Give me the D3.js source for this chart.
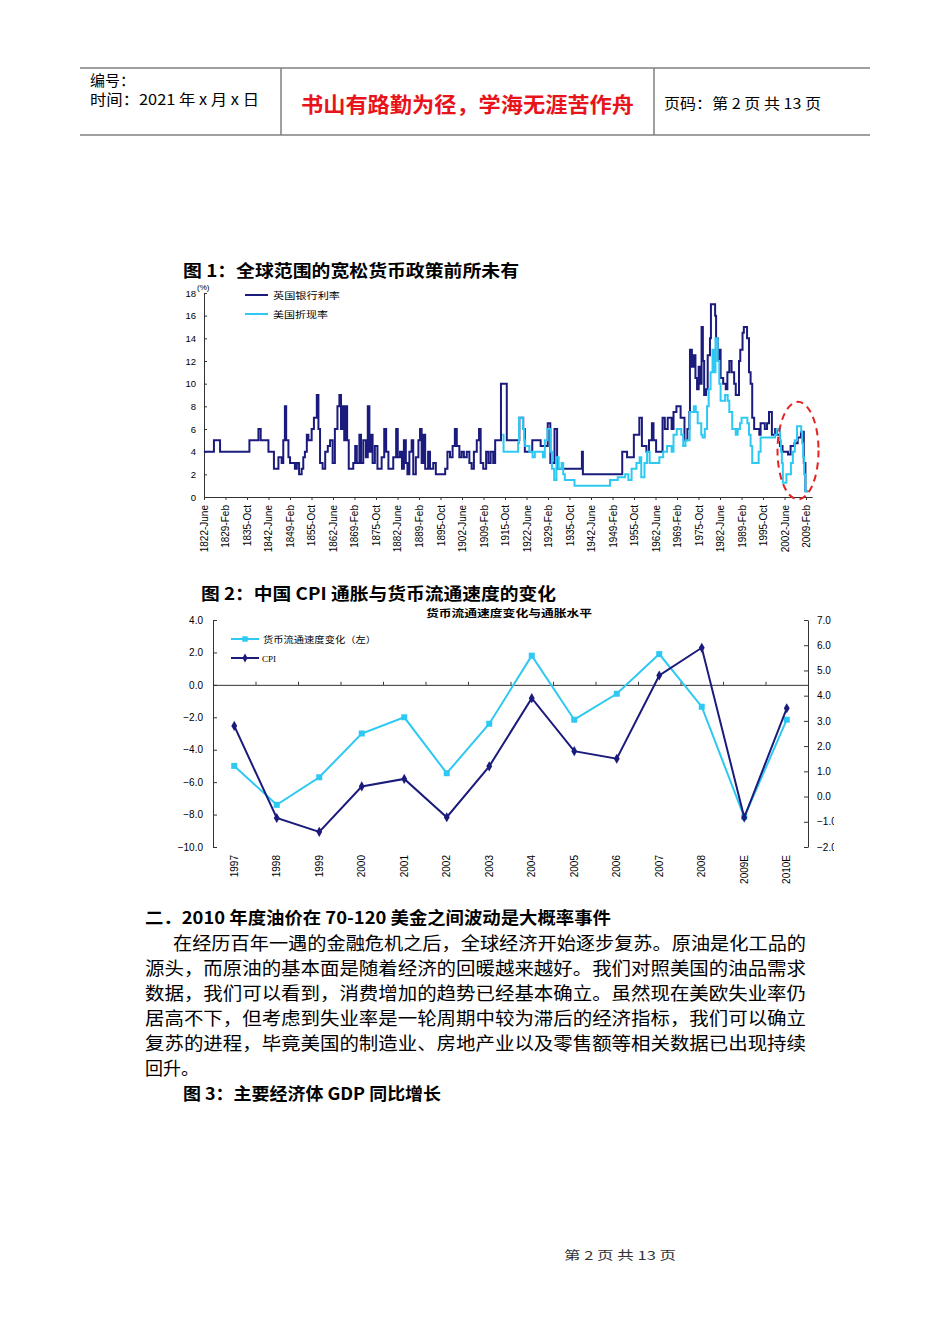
<!DOCTYPE html>
<html>
<head>
<meta charset="utf-8">
<script src="https://cdn.jsdelivr.net/npm/d3@7"></script>
<style>
body { margin: 0; background: #fff; }
</style>
</head>
<body>
<svg id="page" width="950" height="1344"></svg>
<script>
// ---- figure 1 data: UK bank rate / US discount rate (step series) ----
const bankYears = [1822.4,1825.5,1827.4,1836.5,1839.3,1840.0,1842.4,1844.1,1845.5,1846.5,1847.0,1847.5,1847.9,1848.6,1849.1,1850.6,1851.2,1851.9,1852.7,1853.2,1853.7,1854.3,1854.8,1855.8,1856.5,1857.4,1857.9,1858.4,1859.2,1860.0,1860.8,1861.5,1862.3,1863.0,1863.8,1864.4,1864.9,1865.4,1865.9,1866.4,1866.8,1867.3,1868.7,1869.3,1869.8,1870.6,1871.1,1871.8,1872.6,1873.2,1873.7,1874.2,1874.7,1875.4,1876.2,1877.5,1878.3,1878.9,1879.6,1881.1,1882.0,1882.5,1883.2,1883.8,1884.4,1885.0,1885.5,1886.1,1886.8,1887.3,1888.1,1888.9,1889.4,1889.9,1890.4,1891.0,1891.9,1892.5,1893.5,1894.3,1897.2,1897.9,1898.7,1899.5,1900.2,1900.8,1901.6,1902.3,1903.0,1903.9,1904.7,1905.4,1906.1,1907.0,1907.7,1908.2,1909.0,1909.9,1910.6,1911.3,1912.1,1912.7,1914.5,1916.3,1920.2,1921.4,1921.9,1924.2,1926.8,1929.0,1929.8,1931.1,1931.9,1939.6,1939.9,1952.1,1953.6,1955.7,1957.4,1958.2,1959.6,1960.4,1961.3,1961.8,1962.6,1964.6,1965.3,1966.2,1967.4,1968.0,1968.9,1970.2,1971.4,1972.3,1972.9,1973.1,1973.7,1974.2,1974.8,1975.3,1975.8,1976.3,1976.7,1977.1,1977.5,1978.1,1978.6,1979.3,1979.6,1980.9,1981.2,1981.7,1982.2,1982.6,1983.4,1984.2,1984.7,1985.3,1986.0,1986.8,1987.3,1988.3,1988.7,1989.4,1989.8,1990.8,1991.4,1991.9,1992.4,1993.0,1994.6,1995.0,1996.3,1997.0,1997.6,1998.5,1999.5,2000.1,2001.0,2001.8,2003.5,2004.3,2005.5,2006.5,2007.5,2008.4,2008.9,2009.8];
const bankRates = [4,5,4,5,6,5,4,2.5,3.5,3,5,8,5,3.5,3,2.5,3,2,2.5,3.5,4,5.5,5,6,7,9,6,3,2.5,4,4.5,5,3,6,8,9,6,8,5,8,5,2.5,3,4.5,3,5.5,3,5,3.5,8,4,5.5,3,4.5,2.5,3.5,6,4,2.5,3.5,6,3.5,4,2.5,5,3,2,4,5,2,3.5,5,6,3,5.5,2.5,4,2.5,3,2,2.5,4,3.5,4.5,6,4.5,3.5,4,3.5,4,3,2.5,4,5,6,3,2.5,4,3,4,3,5,10,5,7,6,4,5,4.5,6.5,3,6,2.5,4,2,4,3.5,5.5,7,4.5,4,5,6.5,5,4,7,6,7,6,7.5,8,7,5,6,7.5,13,11.5,12.5,10.5,9.5,11.5,10,15,12,9,9.5,12.5,14,17,16,14,12,13,10.5,10,9.5,11,12,11,10,9,12,13,14.5,15,14,11,10,7,6,5.5,6.5,6,6.5,7.5,5.5,6,5.5,4.5,4,3.75,4.5,4.75,5.25,5.75,3,0.5,0.5];

const discYears = [1914.9,1915.3,1919.8,1920.1,1921.3,1921.7,1922.0,1923.3,1924.3,1925.0,1927.5,1928.1,1928.9,1929.9,1930.3,1931.0,1931.7,1932.4,1933.3,1933.8,1934.3,1937.3,1948.3,1950.7,1953.0,1954.0,1955.0,1956.5,1957.5,1958.0,1959.0,1959.8,1960.6,1963.6,1964.8,1966.0,1967.4,1968.0,1969.0,1970.4,1971.0,1971.7,1973.0,1974.3,1974.9,1975.5,1976.6,1977.0,1977.7,1978.4,1978.9,1979.5,1980.1,1980.6,1981.0,1981.7,1982.2,1982.6,1984.0,1984.8,1985.3,1986.2,1987.3,1987.9,1988.6,1989.1,1990.9,1991.4,1991.9,1992.4,1994.4,1995.0,1999.5,2000.0,2001.0,2001.3,2001.6,2001.9,2003.0,2004.4,2005.0,2005.6,2006.3,2007.6,2007.9,2008.2,2008.5,2008.9,2009.8];
const discRates = [5.5,4,4.75,7,6,5,4.5,4,3.5,4,3.5,5,6,4,2.5,1.5,3.5,2.5,3,2,1.5,1,1.5,1.75,2,1.5,2.5,3,3.5,1.75,3,4,3,3.5,4,4.5,4,5.5,6,5.5,4.5,5,7.5,8,7.5,6.5,5.5,5.25,6,8,9.5,11,13,11,14,12,10,8.5,9,8.5,7.5,6,5.5,6,6.5,7,6.5,5.5,4.5,3,4,5.25,5.5,6,5,4,3,1.25,2,3,4,5,6.25,5.75,4.75,3.5,2,0.5,0.5];

const fig1XLabels = ["1822-June","1829-Feb","1835-Oct","1842-June","1849-Feb","1855-Oct","1862-June","1869-Feb","1875-Oct","1882-June","1889-Feb","1895-Oct","1902-June","1909-Feb","1915-Oct","1922-June","1929-Feb","1935-Oct","1942-June","1949-Feb","1955-Oct","1962-June","1969-Feb","1975-Oct","1982-June","1989-Feb","1995-Oct","2002-June","2009-Feb"];
const fig1YTicks = [0,2,4,6,8,10,12,14,16,18];
const fig1Legend = ["英国银行利率","美国折现率"];

// ---- figure 2 data ----
const fig2Years = ["1997","1998","1999","2000","2001","2002","2003","2004","2005","2006","2007","2008","2009E","2010E"];
const velocityChange = [-5.0,-7.4,-5.7,-3.0,-2.0,-5.45,-2.4,1.8,-2.15,-0.55,1.9,-1.35,-8.15,-2.15];
const cpiValues = [2.8,-0.85,-1.4,0.4,0.7,-0.82,1.2,3.9,1.8,1.5,4.8,5.9,-0.83,3.5];
const fig2LeftTicks = [4,2,0,-2,-4,-6,-8,-10];
const fig2RightTicks = [7,6,5,4,3,2,1,0,-1,-2];
const fig2Legend = ["货币流通速度变化（左）","CPI"];

const bodyLines = [
  "在经历百年一遇的金融危机之后，全球经济开始逐步复苏。原油是化工品的",
  "源头，而原油的基本面是随着经济的回暖越来越好。我们对照美国的油品需求",
  "数据，我们可以看到，消费增加的趋势已经基本确立。虽然现在美欧失业率仍",
  "居高不下，但考虑到失业率是一轮周期中较为滞后的经济指标，我们可以确立",
  "复苏的进程，毕竟美国的制造业、房地产业以及零售额等相关数据已出现持续",
  "回升。"
];

const CJK = '"Noto Sans CJK SC", sans-serif';
const NUM = '"Liberation Sans", Arial, sans-serif';
const NAVY = "#1b1b7d";
const CYAN = "#2ec9f2";

let svg = d3.select("#page");
svg.append("rect").attr("width", 950).attr("height", 1344).attr("fill", "#fff");

// ---------- page header ----------
let head = svg.append("g");
head.selectAll("line.hl").data([68, 135]).join("line").attr("class", "hl")
  .attr("x1", 80).attr("x2", 870).attr("y1", d => d).attr("y2", d => d)
  .attr("stroke", "#7f7f7f").attr("stroke-width", 1.5);
head.selectAll("line.vl").data([281, 654]).join("line").attr("class", "vl")
  .attr("x1", d => d).attr("x2", d => d).attr("y1", 68).attr("y2", 135)
  .attr("stroke", "#7f7f7f").attr("stroke-width", 1.5);

function txt(g, s, x, y, size, opts = {}) {
  let t = g.append("text").attr("x", x).attr("y", y).text(s)
    .style("font-family", opts.family || CJK).style("font-size", size + "px")
    .attr("fill", opts.fill || "#000");
  if (opts.bold) t.style("font-weight", "bold");
  if (opts.len) t.attr("textLength", opts.len).attr("lengthAdjust", "spacingAndGlyphs");
  if (opts.anchor) t.attr("text-anchor", opts.anchor);
  return t;
}

txt(head, "编号：", 90, 86, 15);
txt(head, "时间：2021 年 x 月 x 日", 90, 105, 15, {len: 169});
txt(head, "书山有路勤为径，学海无涯苦作舟", 301, 112, 21, {bold: true, fill: "#e8141c", len: 333});
txt(head, "页码：第 2 页  共 13 页", 664, 109, 14.5, {len: 157});

// ---------- figure 1 ----------
txt(svg, "图 1：全球范围的宽松货币政策前所未有", 183, 277, 17, {bold: true, len: 336});

let x1 = d3.scaleLinear().domain([1822.42, 2011]).range([204, 812.2]);
let y1 = d3.scaleLinear().domain([0, 18]).range([497, 293]);
const monthIdx = {Feb: 1, June: 5, Oct: 9};
let labelYear = s => +s.split("-")[0] + monthIdx[s.split("-")[1]] / 12;

let g1 = svg.append("g");
g1.append("g").attr("transform", "translate(0,497)")
  .call(d3.axisBottom(x1).tickValues(fig1XLabels.map(labelYear))
    .tickFormat((d, i) => fig1XLabels[i]).tickSize(3).tickSizeOuter(0))
  .call(a => a.select(".domain").attr("stroke", "#333"))
  .call(a => a.selectAll(".tick line").attr("stroke", "#333"))
  .call(a => a.selectAll("text").attr("transform", "rotate(-90)")
    .attr("x", -8).attr("y", 0).attr("dy", "0.35em").style("text-anchor", "end")
    .style("font-family", NUM).style("font-size", "10px").attr("fill", "#000"));

g1.append("g").attr("transform", "translate(204,0)")
  .call(d3.axisLeft(y1).tickValues(fig1YTicks).tickSize(-3).tickSizeOuter(0).tickPadding(8))
  .call(a => a.select(".domain").attr("stroke", "#333"))
  .call(a => a.selectAll(".tick line").attr("stroke", "#333"))
  .call(a => a.selectAll("text").style("font-family", NUM).style("font-size", "9.5px").attr("fill", "#000"));
txt(g1, "(%)", 197, 289.5, 8, {family: NUM});

let line1 = d3.line().x(d => x1(d[0])).y(d => y1(d[1])).curve(d3.curveStepAfter);
g1.append("path").datum(bankYears.map((yr, i) => [yr, bankRates[i]]))
  .attr("d", line1).attr("fill", "none").attr("stroke", NAVY).attr("stroke-width", 2);
g1.append("path").datum(discYears.map((yr, i) => [yr, discRates[i]]))
  .attr("d", line1).attr("fill", "none").attr("stroke", CYAN).attr("stroke-width", 2);

// highlight ellipse
g1.append("ellipse").attr("cx", x1(2006.6)).attr("cy", (y1(8.4) + y1(-0.2)) / 2)
  .attr("rx", 20.5).attr("ry", (y1(-0.2) - y1(8.4)) / 2)
  .attr("fill", "none").attr("stroke", "#e52222").attr("stroke-width", 2)
  .attr("stroke-dasharray", "7,5");

// legend
[NAVY, CYAN].forEach((c, i) => {
  let yy = 295 + i * 19;
  g1.append("line").attr("x1", 245).attr("x2", 268).attr("y1", yy).attr("y2", yy)
    .attr("stroke", c).attr("stroke-width", 2);
  txt(g1, fig1Legend[i], 273, yy + 3.5, 9, {len: i === 0 ? 67 : 55});
});

// ---------- figure 2 ----------
txt(svg, "图 2：中国 CPI 通胀与货币流通速度的变化", 201, 600, 17, {bold: true, len: 355});
txt(svg, "货币流通速度变化与通胀水平", 426, 617, 10, {bold: true, len: 166});

let x2 = d3.scaleBand().domain(fig2Years).range([213, 808]).padding(0);
let x2b = d3.scaleLinear().domain([0, fig2Years.length]).range([213, 808]);
let y2L = d3.scaleLinear().domain([-10, 4]).range([847, 620]);
let y2R = d3.scaleLinear().domain([-2, 7]).range([847, 620]);
let g2 = svg.append("g");

g2.append("g").attr("transform", "translate(213,0)")
  .call(d3.axisLeft(y2L).tickValues(fig2LeftTicks).tickFormat(d3.format(".1f"))
    .tickSize(-4).tickSizeOuter(0).tickPadding(10))
  .call(a => a.select(".domain").attr("stroke", "#333"))
  .call(a => a.selectAll(".tick line").attr("stroke", "#333"))
  .call(a => a.selectAll("text").style("font-family", NUM).style("font-size", "10px").attr("fill", "#000"));

// right axis, cut off at the picture edge like the source image
svg.append("clipPath").attr("id", "rclip")
  .append("rect").attr("x", 780).attr("y", 600).attr("width", 54).attr("height", 260);
g2.append("g").attr("clip-path", "url(#rclip)")
  .append("g").attr("transform", "translate(808,0)")
  .call(d3.axisRight(y2R).tickValues(fig2RightTicks).tickFormat(d3.format(".1f"))
    .tickSize(-4).tickSizeOuter(0).tickPadding(9))
  .call(a => a.select(".domain").attr("stroke", "#333"))
  .call(a => a.selectAll(".tick line").attr("stroke", "#333"))
  .call(a => a.selectAll("text").style("font-family", NUM).style("font-size", "10px").attr("fill", "#000"));

// zero line with category separators
g2.append("g").attr("transform", `translate(0,${y2L(0)})`)
  .call(d3.axisTop(x2b).tickValues(d3.range(1, fig2Years.length)).tickFormat("").tickSize(3).tickSizeOuter(0))
  .call(a => a.selectAll("path, line").attr("stroke", "#333"));

// category labels
g2.append("g").attr("transform", "translate(0,847)")
  .call(d3.axisBottom(x2).tickSize(0))
  .call(a => a.select(".domain").remove())
  .call(a => a.selectAll("text").attr("transform", "rotate(-90)")
    .attr("x", -8).attr("y", 0).attr("dy", "0.35em").style("text-anchor", "end")
    .style("font-family", NUM).style("font-size", "10px").attr("fill", "#000"));

let cx = d => x2(d) + x2.bandwidth() / 2;
let velPts = fig2Years.map((d, i) => [cx(d), y2L(velocityChange[i])]);
let cpiPts = fig2Years.map((d, i) => [cx(d), y2R(cpiValues[i])]);
g2.append("path").attr("d", d3.line()(velPts)).attr("fill", "none").attr("stroke", CYAN).attr("stroke-width", 2);
g2.selectAll("path.sq").data(velPts).join("path").attr("class", "sq")
  .attr("transform", d => `translate(${d[0]},${d[1]})`)
  .attr("d", d3.symbol(d3.symbolSquare, 36)).attr("fill", CYAN);
g2.append("path").attr("d", d3.line()(cpiPts)).attr("fill", "none").attr("stroke", NAVY).attr("stroke-width", 2);
g2.selectAll("path.dm").data(cpiPts).join("path").attr("class", "dm")
  .attr("transform", d => `translate(${d[0]},${d[1]})`)
  .attr("d", d3.symbol(d3.symbolDiamond, 30)).attr("fill", NAVY);

// legend
[[CYAN, d3.symbolSquare, 30], [NAVY, d3.symbolDiamond, 24]].forEach((s, i) => {
  let yy = 639 + i * 19;
  g2.append("line").attr("x1", 231).attr("x2", 259).attr("y1", yy).attr("y2", yy)
    .attr("stroke", s[0]).attr("stroke-width", 2);
  g2.append("path").attr("transform", `translate(245,${yy})`).attr("d", d3.symbol(s[1], s[2])).attr("fill", s[0]);
  if (i === 0) txt(g2, fig2Legend[0], 263, yy + 3.5, 9, {len: 113});
  else txt(g2, fig2Legend[1], 262, yy + 3.5, 9, {family: '"Liberation Serif", serif'});
});

// ---------- body text ----------
txt(svg, "二．2010 年度油价在 70-120 美金之间波动是大概率事件", 145, 923.5, 17, {bold: true, len: 466});
bodyLines.forEach((s, i) => {
  let x0 = i === 0 ? 173 : 145;
  let full = i < bodyLines.length - 1;
  txt(svg, s, x0, 949.5 + i * 25, 18, full ? {len: 806 - x0} : {});
});
txt(svg, "图 3：主要经济体 GDP 同比增长", 183, 1099.5, 17, {bold: true, len: 258});

// footer
txt(svg, "第 2 页 共 13 页", 620, 1260, 12, {anchor: "middle", fill: "#333", len: 112});
</script>
</body>
</html>
